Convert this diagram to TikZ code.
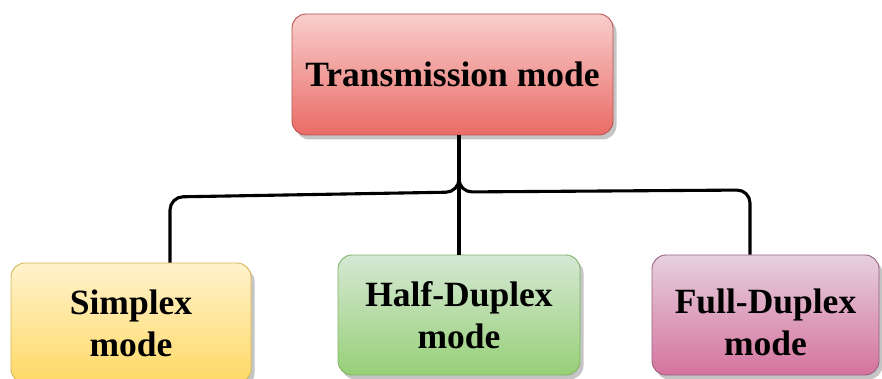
\documentclass[tikz,border=0pt]{standalone}
\usepackage{fontspec}
\setmainfont{Liberation Serif}
\usetikzlibrary{shadows,calc}
\begin{document}
\begin{tikzpicture}[x=1pt,y=1pt,
  box/.style={draw, line width=0.9pt, rounded corners=14pt, align=center,
    inner sep=0pt, shading=axis, font=\fontsize{35.5}{42}\selectfont\bfseries,
    drop shadow={shadow xshift=3.5pt, shadow yshift=-4.5pt, fill=black!25, opacity=0.9}},
  conn/.style={line width=3.1pt, rounded corners=13pt, line cap=butt}
]
\definecolor{redstroke}{HTML}{B85450}
\definecolor{redtop}{HTML}{F8CECC}
\definecolor{redbot}{HTML}{EA6B66}
\definecolor{yellowstroke}{HTML}{D6B656}
\definecolor{yellowtop}{HTML}{FFF2CC}
\definecolor{yellowbot}{HTML}{FFD966}
\definecolor{greenstroke}{HTML}{82B366}
\definecolor{greentop}{HTML}{D5E8D4}
\definecolor{greenbot}{HTML}{97D077}
\definecolor{purplestroke}{HTML}{996185}
\definecolor{purpletop}{HTML}{E6D0DE}
\definecolor{purplebot}{HTML}{D5739D}
\tikzset{
  redbox/.style={box, draw=redstroke, top color=redtop, bottom color=redbot},
  yellowbox/.style={box, draw=yellowstroke, top color=yellowtop, bottom color=yellowbot},
  greenbox/.style={box, draw=greenstroke, top color=greentop, bottom color=greenbot},
  purplebox/.style={box, draw=purplestroke, top color=purpletop, bottom color=purplebot}}
\useasboundingbox[fill=white] (0,0) rectangle (882,378);

\node[redbox, minimum width=321pt, minimum height=121pt] (top) at (452.5,303.5) {Transmission mode};
\node[yellowbox, minimum width=240pt, minimum height=120pt] (simplex) at (131,55) {Simplex\\mode};
\node[greenbox, minimum width=242pt, minimum height=120pt] (half) at (459,63) {Half-Duplex\\mode};
\node[purplebox, minimum width=227pt, minimum height=120pt] (full) at (765.5,63) {\rule{0pt}{40pt}Full-Duplex\\mode};

\coordinate (sx) at ($(simplex.north)+(39,0)$);
\coordinate (fx) at ($(full.north)+(-15.5,0)$);
\coordinate (tx) at (top.south -| half.north);

\draw[conn] (tx) -- (459,186) -- (170,181) -- (sx);
\draw[conn] (tx) -- (459,186) -- (750,188) -- (fx);
\draw[conn] (tx) -- (half.north);
\end{tikzpicture}
\end{document}
